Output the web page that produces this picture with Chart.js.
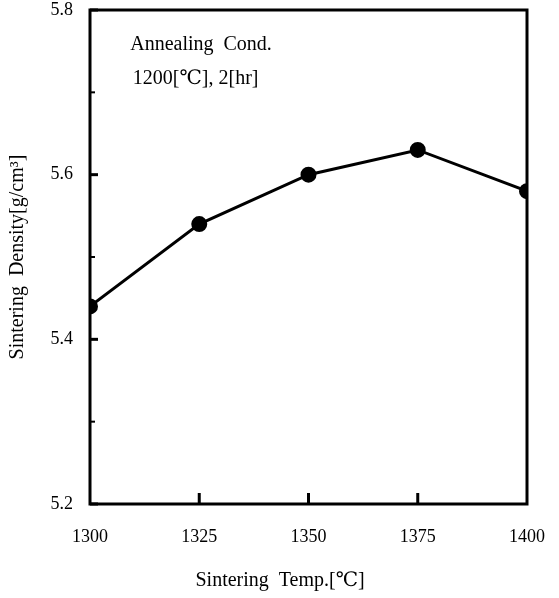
<!DOCTYPE html>
<html>
<head>
<meta charset="utf-8">
<script src="https://cdn.jsdelivr.net/npm/chart.js@4/dist/chart.umd.min.js"></script>
<style>
  html, body { margin: 0; padding: 0; background: #fff; }
  #wrap { width: 559px; height: 598px; }
</style>
</head>
<body>
<div id="wrap"><canvas id="chart" width="559" height="598"></canvas></div>
<script>
// values
const temps = [1300, 1325, 1350, 1375, 1400]
const density = [5.44, 5.54, 5.60, 5.63, 5.58]
const yMajorTicks = [5.2, 5.4, 5.6, 5.8]
const yMinorTicks = [5.3, 5.5, 5.7]
const xTicks = [1300, 1325, 1350, 1375, 1400]
const noteLines = ['Annealing  Cond.', '1200[℃], 2[hr]']
const xTitle = 'Sintering  Temp.[℃]'
const yTitle = 'Sintering  Density[g/cm³]'

const FONT = '"Liberation Serif", "DejaVu Serif", "Noto Sans CJK SC", serif'

// drop the label overflow padding so layout.padding alone places the plot box
const noOverflow = (scale) => {
  scale.paddingTop = 0
  scale.paddingBottom = 0
  scale.paddingLeft = 0
  scale.paddingRight = 0
}

// frame, inward ticks and text drawn against the chart's own scales
const framePlugin = {
  id: 'frame',
  afterDraw(chart) {
    const { ctx, chartArea: a, scales } = chart
    const xs = scales.x
    const ys = scales.y
    ctx.save()
    ctx.strokeStyle = '#000'
    ctx.lineWidth = 3
    ctx.strokeRect(a.left, a.top, a.right - a.left, a.bottom - a.top)
    yMajorTicks.forEach((v) => {
      const y = ys.getPixelForValue(v)
      ctx.beginPath(); ctx.moveTo(a.left, y); ctx.lineTo(a.left + 8, y); ctx.stroke()
    })
    ctx.lineWidth = 2
    yMinorTicks.forEach((v) => {
      const y = ys.getPixelForValue(v)
      ctx.beginPath(); ctx.moveTo(a.left, y); ctx.lineTo(a.left + 5, y); ctx.stroke()
    })
    ctx.lineWidth = 3
    xTicks.slice(1, -1).forEach((v) => {
      const x = xs.getPixelForValue(v)
      ctx.beginPath(); ctx.moveTo(x, a.bottom); ctx.lineTo(x, a.bottom - 11); ctx.stroke()
    })
    ctx.fillStyle = '#000'
    ctx.font = '20px ' + FONT
    ctx.textAlign = 'left'
    ctx.textBaseline = 'middle'
    ctx.fillText(noteLines[0], xs.getPixelForValue(1309.2), ys.getPixelForValue(5.758))
    ctx.fillText(noteLines[1], xs.getPixelForValue(1309.8), ys.getPixelForValue(5.716))
    ctx.textAlign = 'center'
    ctx.fillText(xTitle, xs.getPixelForValue(1343.5), a.bottom + 77)
    ctx.restore()
  },
}

new Chart(document.getElementById('chart'), {
  type: 'line',
  data: {
    datasets: [{
      data: temps.map((t, i) => ({ x: t, y: density[i] })),
      borderColor: '#000',
      backgroundColor: '#000',
      borderWidth: 3,
      pointRadius: 6.5,
      pointHoverRadius: 6.5,
      tension: 0,
    }],
  },
  options: {
    responsive: false,
    animation: false,
    layout: { padding: { top: 10, right: 32, left: 0, bottom: 0 } },
    plugins: { legend: { display: false }, tooltip: { enabled: false } },
    scales: {
      x: {
        type: 'linear',
        min: 1300,
        max: 1400,
        afterBuildTicks: (scale) => { scale.ticks = xTicks.map((v) => ({ value: v })) },
        afterFit: (scale) => { scale.height = 94; noOverflow(scale) },
        grid: { display: false, drawTicks: false },
        border: { display: false },
        ticks: {
          padding: 22,
          color: '#000',
          font: { family: FONT, size: 18 },
          callback: (v) => String(v),
        },
      },
      y: {
        min: 5.2,
        max: 5.8,
        afterBuildTicks: (scale) => { scale.ticks = yMajorTicks.map((v) => ({ value: v })) },
        afterFit: (scale) => { scale.width = 90; noOverflow(scale) },
        grid: { display: false, drawTicks: false },
        border: { display: false },
        ticks: {
          padding: 17,
          color: '#000',
          font: { family: FONT, size: 18 },
          callback: (v) => Number(v).toFixed(1),
        },
        title: {
          display: true,
          text: yTitle,
          color: '#000',
          font: { family: FONT, size: 20 },
          padding: { top: 6, bottom: 0 },
        },
      },
    },
  },
  plugins: [framePlugin],
})
</script>
</body>
</html>
